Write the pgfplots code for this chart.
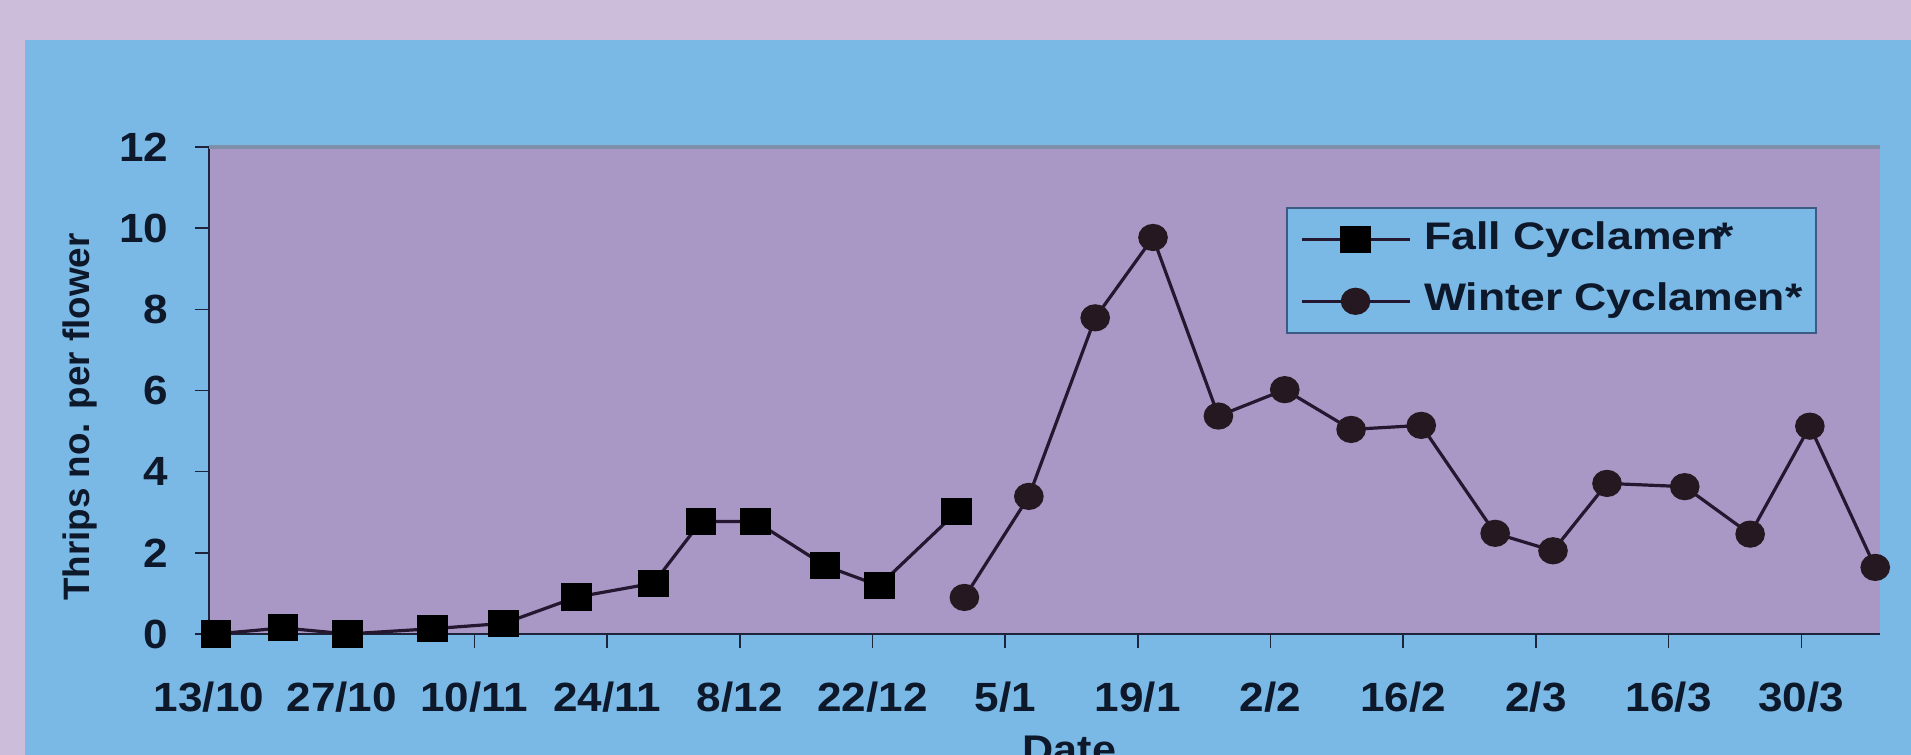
\documentclass[border=0pt]{standalone}
\usepackage{fontspec}
\setmainfont{Liberation Sans}
\newfontfamily\tickfont[FakeStretch=1.08]{Liberation Sans}
\newfontfamily\legfont[FakeStretch=1.16]{Liberation Sans}
\usepackage{pgfplots}
\pgfplotsset{compat=1.18}
\definecolor{lilacbg}{RGB}{204,190,219}
\definecolor{panelblue}{RGB}{122,184,230}
\definecolor{plotbg}{RGB}{169,152,198}
\definecolor{textcol}{RGB}{13,24,42}
\definecolor{linecol}{RGB}{36,24,48}
\definecolor{markcol}{RGB}{38,24,32}
\definecolor{axiscol}{RGB}{30,36,60}
\definecolor{legborder}{RGB}{60,90,130}
\definecolor{topedge}{RGB}{128,143,168}
\begin{document}
\begin{tikzpicture}
\path[use as bounding box] (0,0) rectangle (477.75pt,188.75pt);
\clip (0,0) rectangle (477.75pt,188.75pt);
\fill[lilacbg] (0,0) rectangle (477.75pt,188.75pt);
\fill[panelblue] (6.25pt,0) rectangle (477.75pt,178.75pt);
\begin{axis}[
  at={(52.25pt,30.25pt)}, anchor=south west,
  scale only axis, width=417.75pt, height=121.75pt,
  xmin=0, xmax=176.3, ymin=0, ymax=12,
  axis x line*=bottom, axis y line*=left,
  axis line style={-, draw=axiscol, line width=0.6pt},
  xtick={0,14,...,168},
  xticklabels={13/10,27/10,10/11,24/11,8/12,22/12,5/1,19/1,2/2,16/2,2/3,16/3,30/3},
  ytick={0,2,...,12},
  tick align=outside,
  major tick length=3.5pt,
  tick style={draw=axiscol, line width=0.4pt},
  axis background/.style={fill=plotbg},
  clip=false,
  /pgf/number format/assume math mode=true,
  xticklabel style={font=\tickfont\bfseries\fontsize{10.2}{12}\selectfont, text=textcol, anchor=north, inner sep=0pt, yshift=-8.25pt},
  yticklabel style={font=\tickfont\bfseries\fontsize{10.2}{12}\selectfont, text=textcol, anchor=east, inner sep=0pt, xshift=-6.5pt},
  xlabel={Date},
  xlabel style={font=\tickfont\bfseries\fontsize{10}{12}\selectfont, text=textcol, at={(axis description cs:0.515,0)}, anchor=north, inner sep=0pt, yshift=-25.25pt},
  ylabel={Thrips no. per flower},
  ylabel style={font=\bfseries\fontsize{9.2}{11}\selectfont, text=textcol, at={(axis description cs:-0.0772,0.445)}, anchor=center, inner sep=0pt},
  legend style={at={(axis description cs:0.6445,0.8768)}, anchor=north west, draw=legborder, line width=0.5pt, fill=panelblue,
    font=\legfont\bfseries\fontsize{9.6}{11}\selectfont, text=textcol, inner xsep=3.25pt, inner ysep=3.4pt,
    row sep=6.2pt, column sep=3.25pt, nodes={inner sep=0pt, text depth=0.22em}},
  legend cell align=left,
  legend image code/.code={\draw[mark repeat=2, mark phase=2, #1] plot coordinates {(0pt,0pt) (13.5pt,0pt) (27pt,0pt)};},
]
\draw[color=topedge, line width=0.8pt] (rel axis cs:0,1) -- (rel axis cs:1,1);
\addplot[color=linecol, line width=0.8pt, mark=square*, mark size=3pt, mark options={fill=black, draw=black, solid, xscale=1.15}] coordinates {
(0.74,0) (7.8,0.15) (14.6,0) (23.6,0.13) (31.1,0.26) (38.8,0.91) (46.9,1.25) (51.9,2.77) (57.7,2.77) (65.0,1.68) (70.7,1.19) (78.9,3.01)};
\addlegendentry{Fall Cyclamen\kern-0.18em*}
\addplot[color=linecol, line width=0.8pt, mark=*, mark size=3pt, mark options={fill=markcol, draw=markcol, solid, xscale=1.1}] coordinates {
(79.7,0.90) (86.5,3.39) (93.5,7.79) (99.6,9.77) (106.5,5.37) (113.5,6.02) (120.5,5.04) (127.9,5.14) (135.7,2.48) (141.8,2.05) (147.5,3.71) (155.7,3.63) (162.6,2.46) (168.9,5.12) (175.8,1.64)};
\addlegendentry{Winter Cyclamen*}
\end{axis}
\end{tikzpicture}
\end{document}
